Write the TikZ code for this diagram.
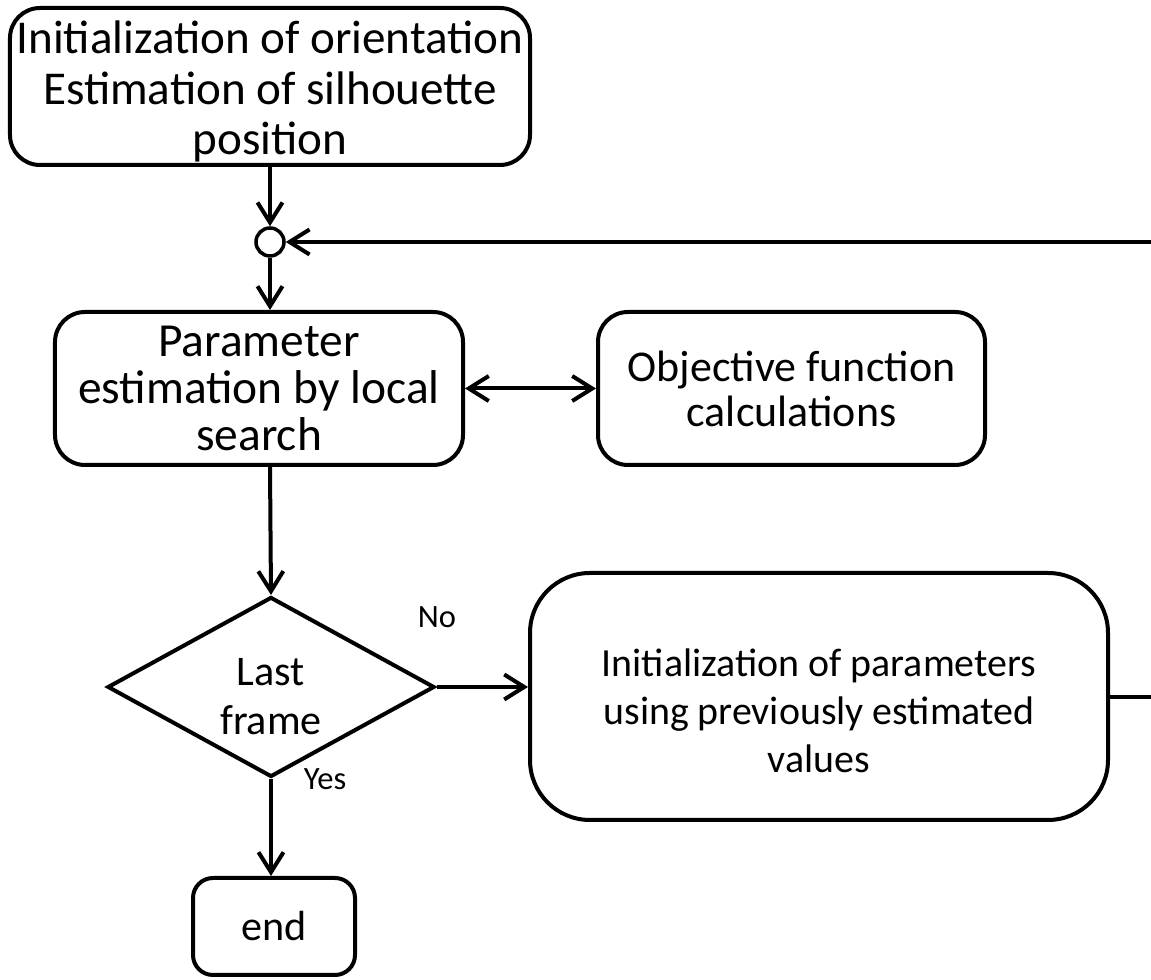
\documentclass[tikz,border=0pt]{standalone}
\usepackage{fontspec}
\setmainfont{Carlito}
\usetikzlibrary{shapes.geometric,arrows.meta}
\tikzset{
  box/.style={draw, line width=0.8mm, rounded corners=0.6cm, align=center, inner sep=0pt},
  decision/.style={draw, diamond, line width=0.8mm, align=center, inner sep=0pt},
  answer/.style={font=\fontsize{18.5}{22}\selectfont},
}
\begin{document}
\begin{tikzpicture}[line width=0.8mm, >={Straight Barb[length=4mm,width=5mm]}]
  \useasboundingbox (0,0) rectangle (23.02,19.6);
  \node[box, minimum width=10.4cm, minimum height=3.14cm,
    label={[yshift=-0.1cm, align=center, font=\fontsize{26.8}{28.5}\selectfont]center:Initialization of orientation\\Estimation of silhouette\\position}] (init) at (5.4,17.87) {};
  \node[draw, circle, line width=0.7mm, minimum size=0.56cm, inner sep=0pt] (join) at (5.4,14.76) {};
  \node[box, minimum width=8.16cm, minimum height=3.06cm, font=\fontsize{27}{26.5}\selectfont] (search) at (5.18,11.83)
    {Parameter\\estimation by local\\search};
  \node[box, minimum width=7.74cm, minimum height=3.06cm, font=\fontsize{25}{25.6}\selectfont] (objective) at (15.83,11.83)
    {Objective function\\calculations};
  \node[decision, minimum width=6.54cm, minimum height=3.6cm,
    label={[yshift=-0.2cm, align=center, font=\fontsize{24}{28}\selectfont]center:Last\\frame}] (last) at (5.42,5.86) {};
  \node[box, rounded corners=1.2cm, minimum width=11.56cm, minimum height=4.94cm,
    label={[yshift=-0.28cm, align=center, font=\fontsize{22.7}{27.3}\selectfont]center:Initialization of parameters\\using previously estimated\\values}] (reinit) at (16.38,5.67) {};
  \node[box, rounded corners=0.4cm, minimum width=3.24cm, minimum height=1.94cm, font=\fontsize{24}{28}\selectfont] (end) at (5.48,1.07) {end};
  \node[answer] (no) at (8.74,7.26) {No};
  \node[answer] (yes) at (6.5,4.02) {Yes};
  \coordinate (back) at (23.02,14.76);
  \coordinate (out) at (23.02,5.66);
  % main flow
  \draw[->] (init.south -| join) -- (join.north);
  \draw[->] (back) -- (join.east);
  \draw[->] (join.south) -- (join.south |- search.north);
  \draw[<->] (search.east) -- (objective.west);
  \draw[->] (search.south -| join) -- (last.north);
  \draw[->] (last.east) -- (last.east -| reinit.west);
  \draw[->] (last.south) -- (last.south |- end.north);
  \draw (reinit.east |- out) -- (out);
\end{tikzpicture}
\end{document}
